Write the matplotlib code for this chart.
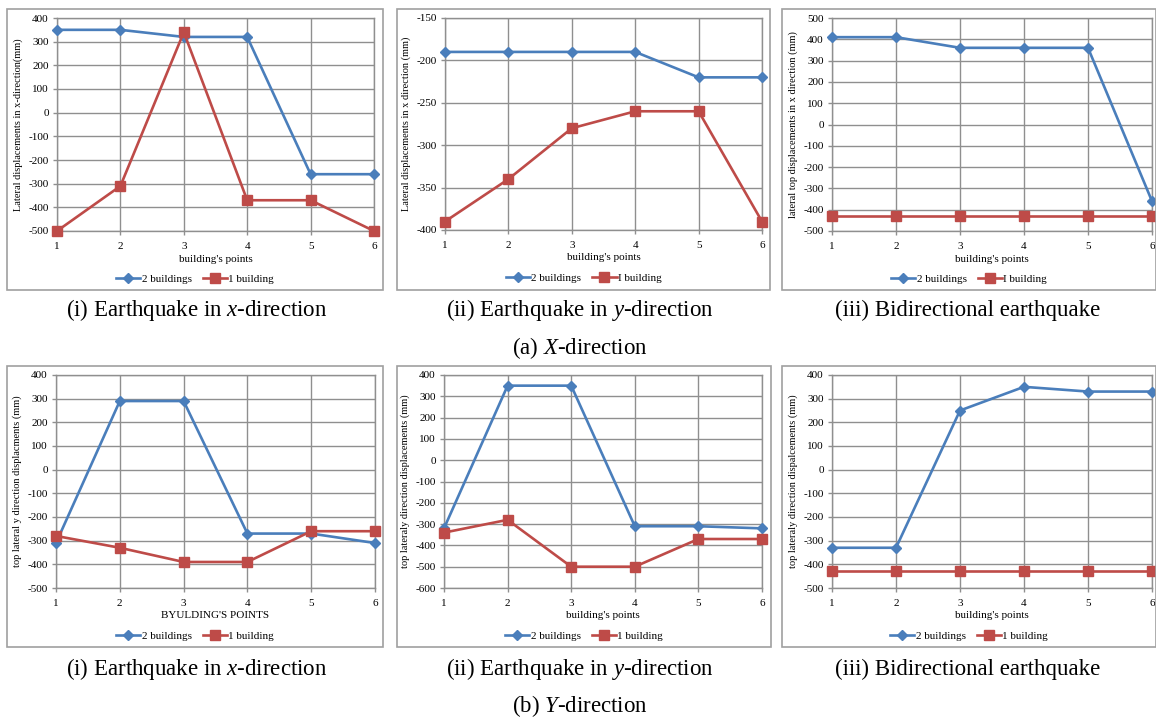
import matplotlib
matplotlib.use("Agg")
import matplotlib.pyplot as plt
from matplotlib.patches import Rectangle
from matplotlib.lines import Line2D

plt.rcParams['font.family'] = ['Liberation Serif', 'DejaVu Serif']
plt.rcParams['mathtext.fontset'] = 'custom'
plt.rcParams['mathtext.rm'] = 'Liberation Serif'
plt.rcParams['mathtext.it'] = 'Liberation Serif:italic'
plt.rcParams['axes.unicode_minus'] = False

W, H = 1156, 719

points = [1, 2, 3, 4, 5, 6]

# (a) X-direction
xa_two = [350, 350, 320, 320, -260, -260]
xa_one = [-500, -310, 340, -370, -370, -500]
xb_two = [-190, -190, -190, -190, -220, -220]
xb_one = [-390, -340, -280, -260, -260, -390]
xc_two = [410, 410, 360, 360, 360, -360]
xc_one = [-430, -430, -430, -430, -430, -430]
# (b) Y-direction
ya_two = [-310, 290, 290, -270, -270, -310]
ya_one = [-280, -330, -390, -390, -260, -260]
yb_two = [-320, 350, 350, -310, -310, -320]
yb_one = [-340, -280, -500, -500, -370, -370]
yc_two = [-330, -330, 250, 350, 330, 330]
yc_one = [-430, -430, -430, -430, -430, -430]

ylabels = [
    "Lateral displacements in x-direction(mm)",
    "Lateral displacements in x direction (mm)",
    "lateral top displacements in x direction (mm)",
    "top lateral y direction displacments (mm)",
    "top lateraly direction displacements (mm)",
    "top lateraly direction dispalcements (mm)",
]
xlabels = ["building's points", "building's points", "building's points",
           "BYULDING'S POINTS", "building's points", "building's points"]
legend_two = ["2 buildings"] * 6
legend_one = ["1 building", "I building", "I building", "1 building", "1 building", "1 building"]
ylims = [(-500, 400, 100), (-400, -150, 50), (-500, 500, 100),
         (-500, 400, 100), (-600, 400, 100), (-500, 400, 100)]
captions = ["(i) Earthquake in $x$-direction", "(ii) Earthquake in $y$-direction",
            "(iii) Bidirectional earthquake"]
group_titles = ["(a) $X$-direction", "(b) $Y$-direction"]

series_two = [xa_two, xb_two, xc_two, ya_two, yb_two, yc_two]
series_one = [xa_one, xb_one, xc_one, ya_one, yb_one, yc_one]

BLUE = '#4A7EBB'
RED = '#BE4B48'
GRID = '#8f8f8f'

# layout (pixels)
plot_boxes = [(57, 18, 374, 231), (445, 18, 762, 230), (832, 18, 1152, 231),
              (56, 375, 375, 588), (444, 375, 762, 588), (832, 375, 1152, 588)]
frames = [(7, 9, 383, 290), (397, 9, 770, 290), (782, 9, 1156, 290),
          (7, 366, 383, 647), (397, 366, 771, 647), (782, 366, 1156, 647)]

fig = plt.figure(figsize=(W / 100, H / 100), dpi=100)
fig.patch.set_facecolor('white')

def fx(px):
    return px / W

def fy(py):
    return 1 - py / H

FS = 8
for i in range(6):
    l, t, r, b = plot_boxes[i]
    ax = fig.add_axes([fx(l), fy(b), (r - l) / W, (b - t) / H])
    ax.plot(points, series_two[i], color=BLUE, lw=1.9, marker='D', ms=5.5,
            markerfacecolor=BLUE, markeredgecolor=BLUE, clip_on=False, zorder=4)
    ax.plot(points, series_one[i], color=RED, lw=1.9, marker='s', ms=6.5,
            markerfacecolor=RED, markeredgecolor=RED, clip_on=False, zorder=5)
    lo, hi, st = ylims[i]
    ax.set_ylim(lo, hi)
    ax.set_yticks(list(range(lo, hi + 1, st)))
    ax.set_xlim(1, 6)
    ax.set_xticks(points)
    ax.grid(True, color=GRID, lw=1.0)
    ax.set_axisbelow(True)
    for s in ax.spines.values():
        s.set_color(GRID)
        s.set_linewidth(1.0)
    ax.tick_params(axis='both', labelsize=FS, color=GRID, length=3, width=1.0, pad=3)
    ax.tick_params(axis='x', pad=5)
    ax.set_ylabel(ylabels[i], fontsize=7.5, labelpad=4)
    # frame
    fl, ft, fr, fb = frames[i]
    fig.patches.append(Rectangle((fx(fl), fy(fb)), (fr - fl) / W, (fb - ft) / H,
                                 transform=fig.transFigure, fill=False,
                                 edgecolor='#a0a0a0', lw=1.2))
    # x label
    fig.text(fx((l + r) / 2), fy(b + 28), xlabels[i], ha='center', va='center', fontsize=FS)
    # legend
    h1 = Line2D([], [], color=BLUE, lw=1.9, marker='D', ms=5.5)
    h2 = Line2D([], [], color=RED, lw=1.9, marker='s', ms=6.5)
    fig.legend([h1, h2], [legend_two[i], legend_one[i]], loc='center',
               bbox_to_anchor=(fx((fl + fr) / 2), fy(b + 48)), ncol=2, frameon=False,
               fontsize=FS, handlelength=2.2, handletextpad=0.1, columnspacing=1.0)

cap_x = [197, 580, 968]
for j, c in enumerate(captions):
    fig.text(fx(cap_x[j]), fy(310), c, ha='center', va='center', fontsize=16.5)
    fig.text(fx(cap_x[j]), fy(669), c, ha='center', va='center', fontsize=16.5)
fig.text(fx(580), fy(348), group_titles[0], ha='center', va='center', fontsize=16.5)
fig.text(fx(580), fy(706), group_titles[1], ha='center', va='center', fontsize=16.5)

fig.savefig('out.png', dpi=100, facecolor='white')
